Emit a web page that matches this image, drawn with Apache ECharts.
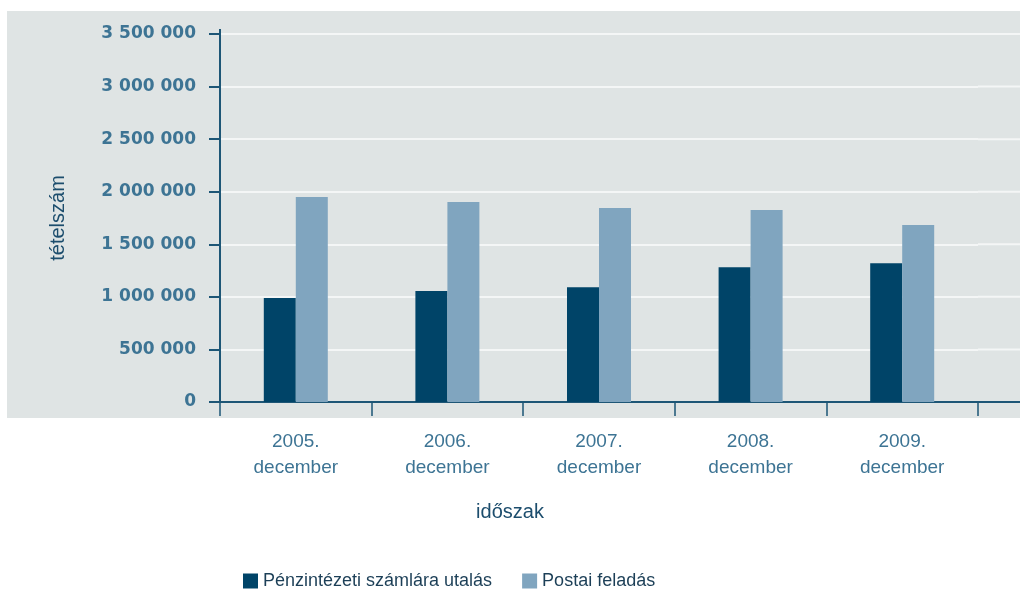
<!DOCTYPE html>
<html>
<head>
<meta charset="utf-8">
<script src="https://cdn.jsdelivr.net/npm/echarts@6/dist/echarts.min.js"></script>
<style>html,body{margin:0;padding:0;background:#fff;}#c{width:1020px;height:591px;}</style>
</head>
<body>
<div id="c"></div>
<script>
const categories = ['2005.\ndecember', '2006.\ndecember', '2007.\ndecember', '2008.\ndecember', '2009.\ndecember'];
const seriesNames = ['Pénzintézeti számlára utalás', 'Postai feladás'];
const bankTransfer = [990000, 1055000, 1092000, 1282000, 1320000];
const postal = [1950000, 1902000, 1845000, 1826000, 1683000];
const yTicks = { min: 0, max: 3500000, interval: 500000 };

const narrow = "'Liberation Sans', Arial, sans-serif";
const chart = echarts.init(document.getElementById('c'), null, { renderer: 'canvas' });
chart.setOption({
  animation: false,
  backgroundColor: '#ffffff',
  title: {
    text: 'időszak', left: 510, top: 502, textAlign: 'center', padding: 0,
    textStyle: { fontFamily: narrow, fontSize: 20, fontWeight: 'normal', color: '#1c4d6d' }
  },
  legend: {
    data: seriesNames, left: 243, top: 572, padding: 0, itemWidth: 15, itemHeight: 15, itemGap: 30,
    icon: 'rect',
    textStyle: { fontFamily: narrow, fontSize: 18, color: '#1c3f57' }
  },
  grid: { left: 220, right: 42, top: 34, bottom: 189, containLabel: false },
  xAxis: {
    type: 'category', data: categories,
    axisLine: { show: true, lineStyle: { color: '#1d5676', width: 2 } },
    axisTick: { show: true, length: 14, lineStyle: { color: '#1d5676', width: 1.5 } },
    axisLabel: { margin: 27, fontFamily: narrow, fontSize: 19, lineHeight: 26, color: '#3d7494', interval: 0 }
  },
  yAxis: {
    type: 'value', min: yTicks.min, max: yTicks.max, interval: yTicks.interval,
    name: 'tételszám', nameLocation: 'middle', nameGap: 152, nameRotate: 90,
    nameTextStyle: { fontFamily: narrow, fontSize: 20, color: '#1c4d6d' },
    axisLine: { show: true, lineStyle: { color: '#1d5676', width: 2 } },
    axisTick: { show: true, length: 11, lineStyle: { color: '#1d5676', width: 2 } },
    axisLabel: {
      margin: 24, fontFamily: "'DejaVu Sans', sans-serif", fontWeight: 'bold', fontSize: 17, color: '#3d7494',
      formatter: v => String(v).replace(/\B(?=(\d{3})+(?!\d))/g, ' ')
    },
    splitLine: { show: true, lineStyle: { color: '#f4f6f6', width: 2 } }
  },
  series: [
    { name: seriesNames[0], type: 'bar', data: bankTransfer, barWidth: 32, barGap: '0%', itemStyle: { color: '#004468' } },
    { name: seriesNames[1], type: 'bar', data: postal, barWidth: 32, barGap: '0%', itemStyle: { color: '#80a5bf' } }
  ]
});

// panel background and axis/gridline extensions beyond the grid, positioned via the library's scale
const gridRight = 978;
const ext = [];
for (let v = yTicks.min; v <= yTicks.max; v += yTicks.interval) {
  const y = chart.convertToPixel({ yAxisIndex: 0 }, v);
  ext.push({ type: 'line', z: v === 0 ? 10 : 0, shape: { x1: gridRight, y1: y, x2: 1020, y2: y },
    style: v === 0 ? { stroke: '#1d5676', lineWidth: 2 } : { stroke: '#f4f6f6', lineWidth: 2 } });
}
const yTop = chart.convertToPixel({ yAxisIndex: 0 }, yTicks.max);
chart.setOption({
  graphic: [
    { type: 'rect', z: -10, shape: { x: 7, y: 11, width: 1013, height: 407 }, style: { fill: '#dfe4e4' } },
    { type: 'line', z: 10, shape: { x1: 220, y1: yTop - 5, x2: 220, y2: yTop }, style: { stroke: '#1d5676', lineWidth: 2 } }
  ].concat(ext)
});
</script>
</body>
</html>
